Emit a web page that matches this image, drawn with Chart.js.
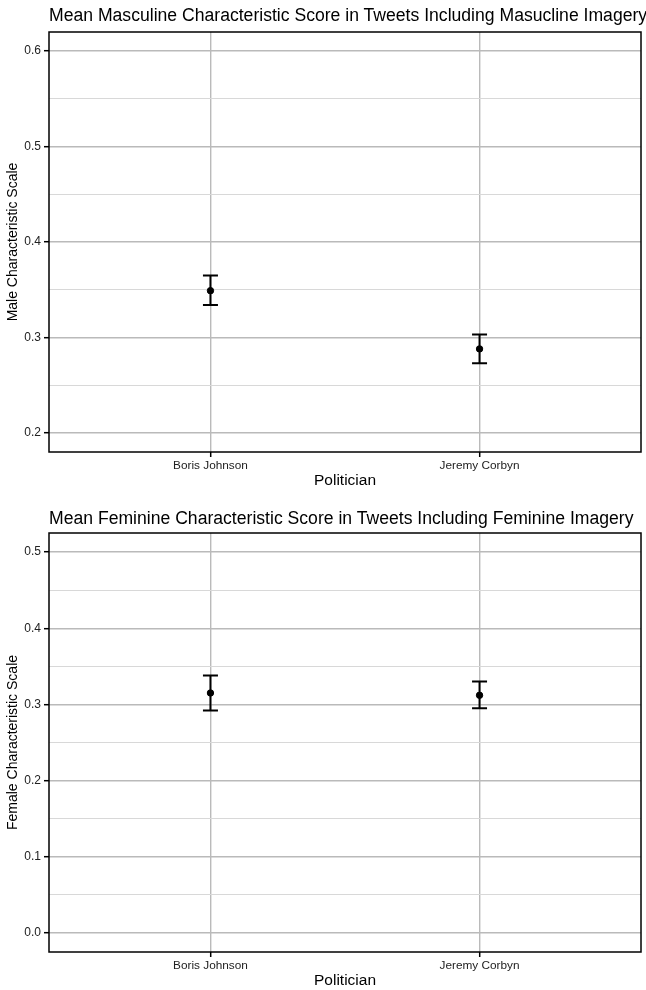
<!DOCTYPE html>
<html>
<head>
<meta charset="utf-8">
<script src="https://cdn.jsdelivr.net/npm/chart.js@4.4.1/dist/chart.umd.min.js"></script>
<style>
  body { margin: 0; background: #fff; font-family: "Liberation Sans", Arial, sans-serif; }
  .box { position: absolute; left: 0; width: 646px; }
  .title { position: absolute; left: 49px; font-size: 17.6px; line-height: 20px; color: #000; white-space: nowrap; }
</style>
</head>
<body>
<div class="box" style="top:0;height:490px"><canvas id="male"></canvas></div>
<div class="box" style="top:500px;height:490px"><canvas id="female"></canvas></div>
<div class="title" style="top:5px">Mean Masculine Characteristic Score in Tweets Including Masucline Imagery</div>
<div class="title" style="top:508px">Mean Feminine Characteristic Score in Tweets Including Feminine Imagery</div>
<script>
const politicians = ["Boris Johnson", "Jeremy Corbyn"];

const maleMean = [0.349, 0.288];
const maleLower = [0.334, 0.273];
const maleUpper = [0.365, 0.303];

const femaleMean = [0.315, 0.312];
const femaleLower = [0.292, 0.295];
const femaleUpper = [0.338, 0.330];

const maleTicks = [0.2, 0.25, 0.3, 0.35, 0.4, 0.45, 0.5, 0.55, 0.6];
const femaleTicks = [0.0, 0.05, 0.1, 0.15, 0.2, 0.25, 0.3, 0.35, 0.4, 0.45, 0.5];

const FONT = "'Liberation Sans', Arial, sans-serif";

const isMajor = (v) => Math.abs(v * 10 - Math.round(v * 10)) < 1e-6;

// whiskers, drawn through the scales before the points
const errorBars = {
  id: "errorBars",
  beforeDatasetsDraw(chart, args, opts) {
    const { ctx, scales: { x, y } } = chart;
    ctx.save();
    ctx.strokeStyle = "#000";
    ctx.lineWidth = 2;
    opts.lower.forEach((lo, i) => {
      const px = x.getPixelForValue(i + 1);
      const top = y.getPixelForValue(opts.upper[i]);
      const bot = y.getPixelForValue(lo);
      ctx.beginPath();
      ctx.moveTo(px, top); ctx.lineTo(px, bot);
      ctx.moveTo(px - 7.5, top); ctx.lineTo(px + 7.5, top);
      ctx.moveTo(px - 7.5, bot); ctx.lineTo(px + 7.5, bot);
      ctx.stroke();
    });
    ctx.restore();
  }
};

const panelBox = {
  id: "panelBox",
  afterDraw(chart) {
    const { ctx, chartArea: a } = chart;
    ctx.save();
    ctx.strokeStyle = "#000";
    ctx.lineWidth = 1.5;
    ctx.strokeRect(a.left, a.top, a.right - a.left, a.bottom - a.top);
    ctx.restore();
  }
};

function makeChart(id, means, lower, upper, yTicks, yMin, yMax, yTitle, padTop) {
  new Chart(document.getElementById(id), {
    type: "scatter",
    data: {
      datasets: [{
        data: means.map((m, i) => ({ x: i + 1, y: m })),
        backgroundColor: "#000",
        borderColor: "#000",
        pointRadius: 3.2,
        pointHoverRadius: 3.2
      }]
    },
    options: {
      responsive: true,
      maintainAspectRatio: false,
      animation: false,
      layout: { padding: { top: padTop, right: 5, left: 0, bottom: 0 } },
      plugins: {
        legend: { display: false },
        tooltip: { enabled: false },
        errorBars: { lower: lower, upper: upper }
      },
      scales: {
        x: {
          type: "linear",
          min: 0.4,
          max: 2.6,
          afterBuildTicks: (s) => { s.ticks = politicians.map((p, i) => ({ value: i + 1 })); },
          afterFit: (s) => { s.height = 38; },
          border: { display: false },
          grid: { color: "#bababa", lineWidth: 1.4, tickLength: 5, tickColor: "#000", tickWidth: 1.5 },
          ticks: {
            padding: 2,
            color: "#222",
            font: { family: FONT, size: 11.8 },
            callback: (v) => politicians[v - 1]
          },
          title: {
            display: true,
            text: "Politician",
            color: "#000",
            font: { family: FONT, size: 15.5 },
            padding: { top: 0, bottom: 0 }
          }
        },
        y: {
          min: yMin,
          max: yMax,
          afterBuildTicks: (s) => { s.ticks = yTicks.map((v) => ({ value: v })); },
          afterFit: (s) => { s.width = 49; },
          border: { display: false },
          grid: {
            color: (c) => isMajor(c.tick.value) ? "#bababa" : "#d8d8d8",
            lineWidth: (c) => isMajor(c.tick.value) ? 1.4 : 1,
            tickLength: 5,
            tickWidth: 1.5,
            tickColor: (c) => isMajor(c.tick.value) ? "#000" : "rgba(0,0,0,0)"
          },
          ticks: {
            autoSkip: false,
            padding: 3,
            color: "#222",
            font: { family: FONT, size: 12 },
            callback: (v) => isMajor(v) ? v.toFixed(1) : ""
          },
          title: {
            display: true,
            text: yTitle,
            color: "#000",
            font: { family: FONT, size: 14 },
            padding: { top: 5, bottom: 0 }
          }
        }
      }
    },
    plugins: [errorBars, panelBox]
  });
}

makeChart("male", maleMean, maleLower, maleUpper, maleTicks, 0.18, 0.62, "Male Characteristic Scale", 32);
makeChart("female", femaleMean, femaleLower, femaleUpper, femaleTicks, -0.025, 0.525, "Female Characteristic Scale", 33);
</script>
</body>
</html>
